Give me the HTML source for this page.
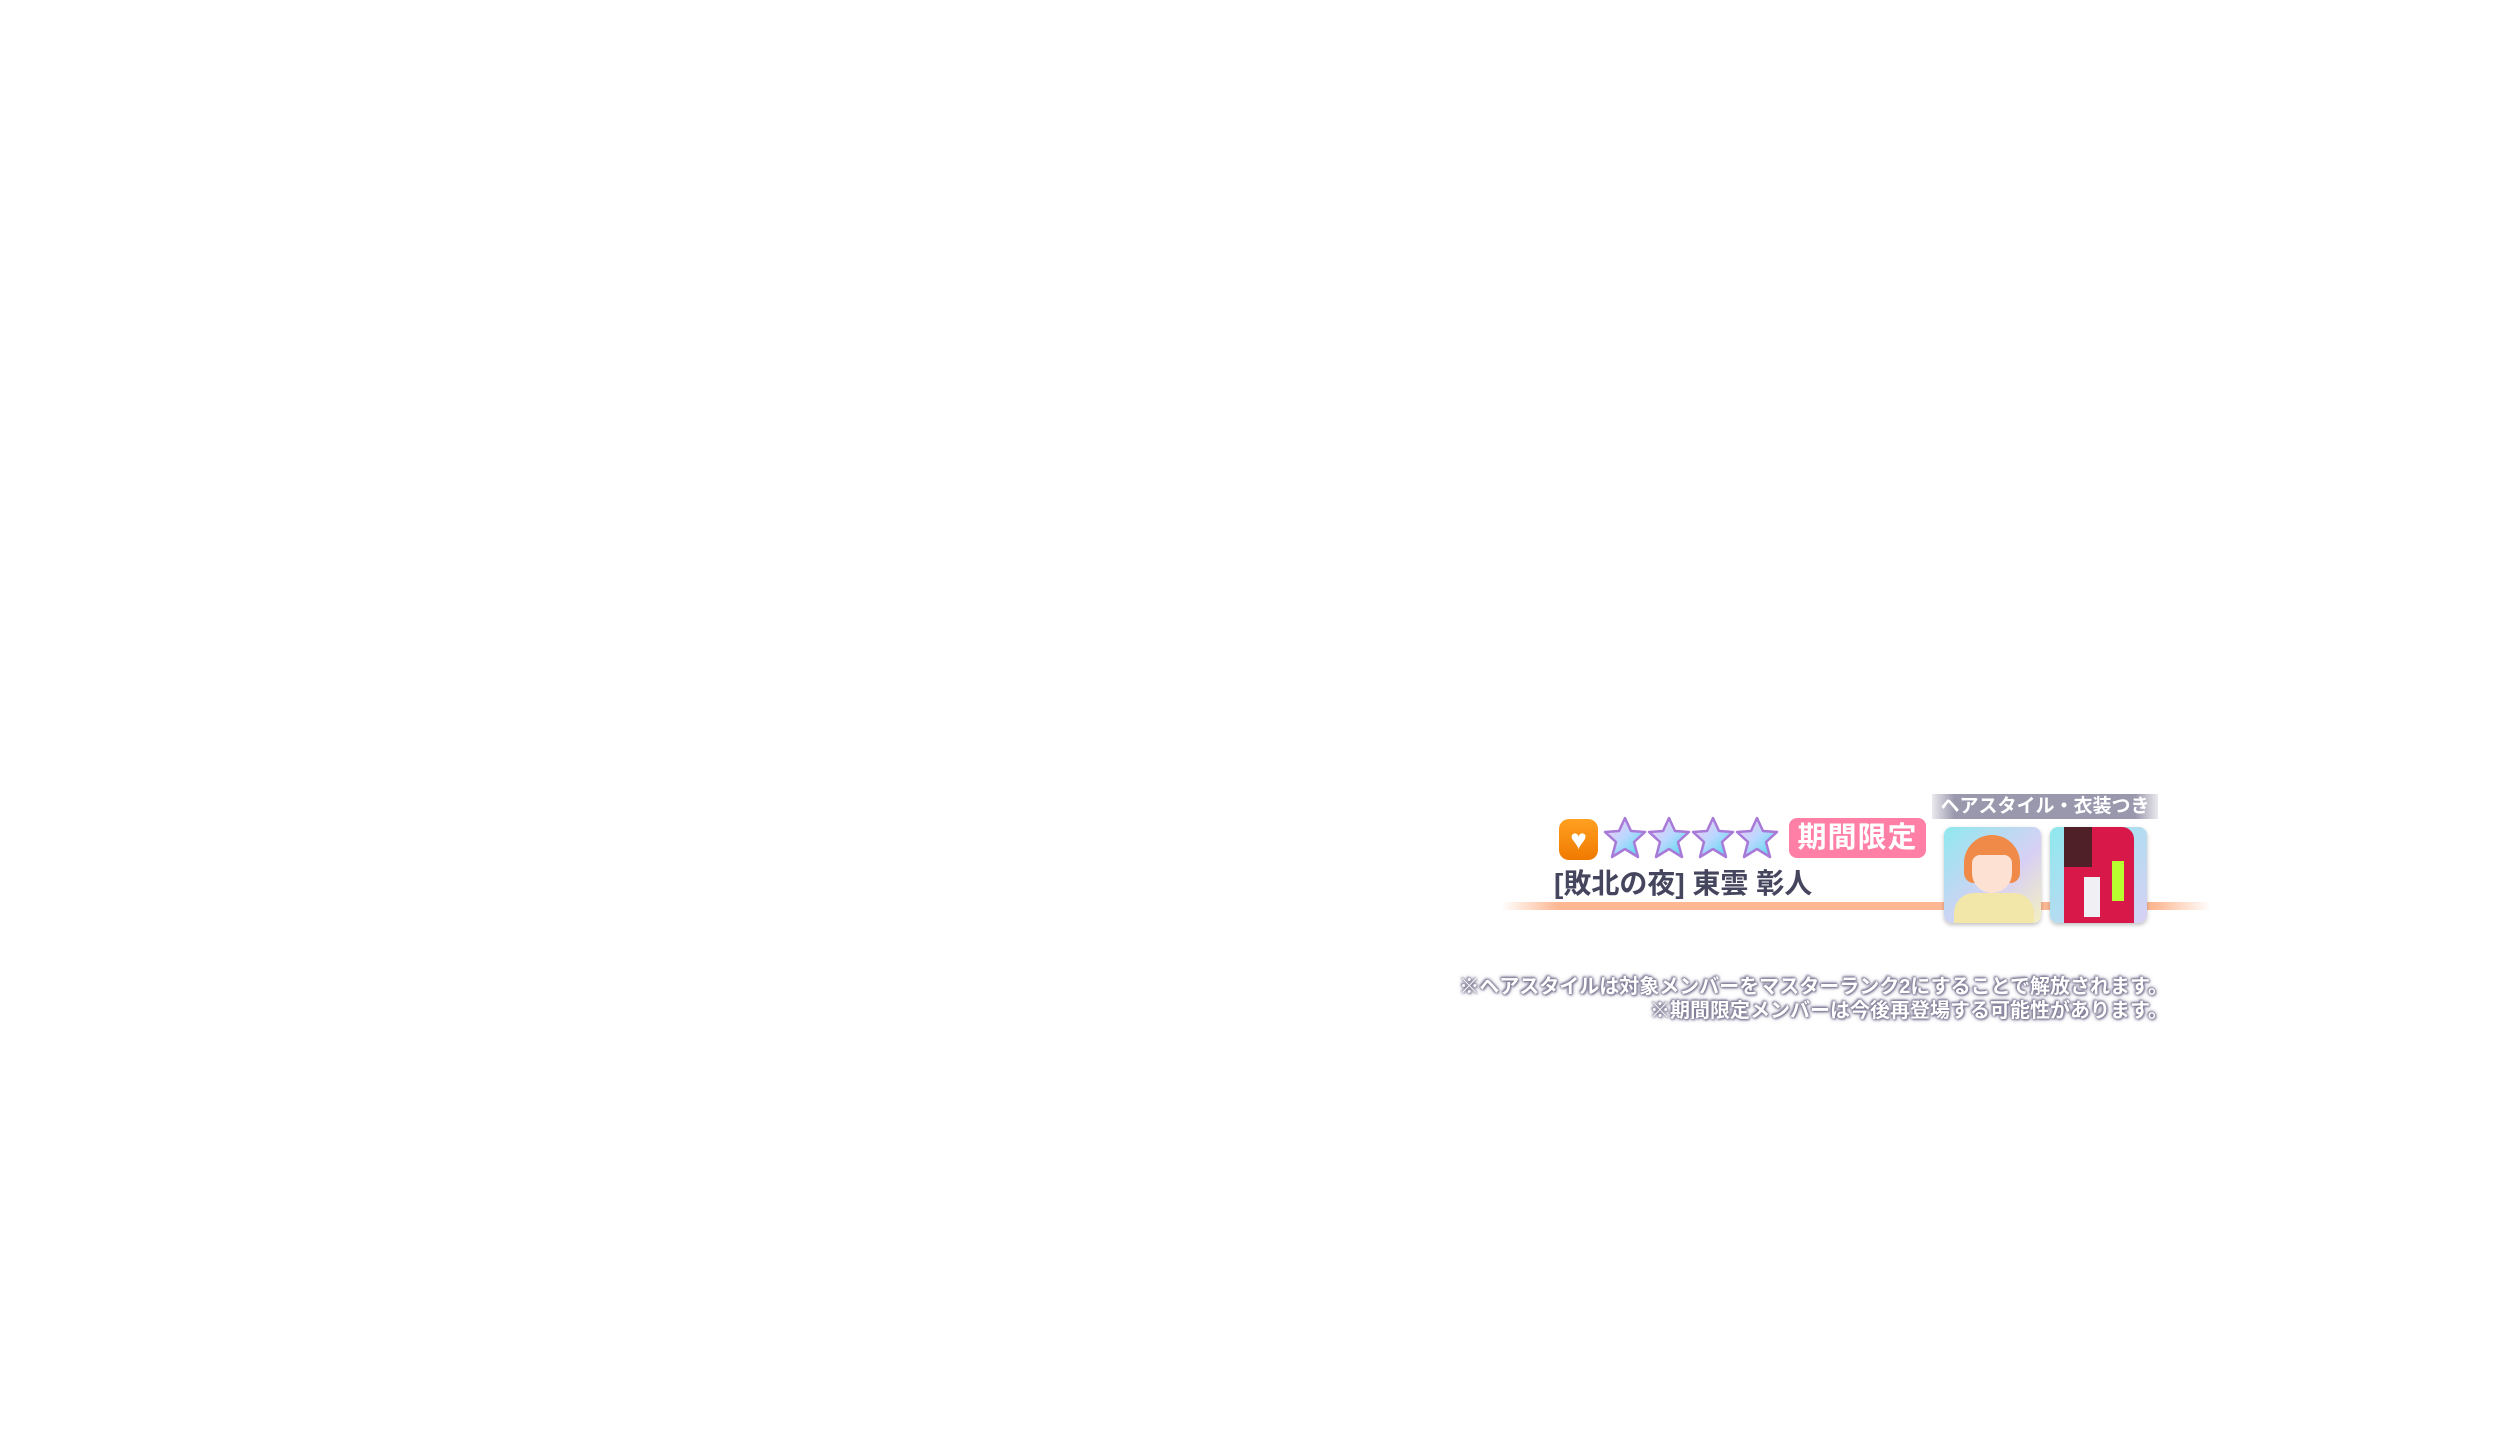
<!DOCTYPE html>
<html><head><meta charset="utf-8"><style>
body{margin:0;width:2520px;height:1440px;background:#fff;position:relative;overflow:hidden;font-family:"Liberation Sans","Noto Sans CJK JP",sans-serif;}
.a{position:absolute;}
.line{left:1501px;top:902px;width:710px;height:8px;background:linear-gradient(90deg,rgba(255,180,140,0),#fdb893 8%,#fdb893 92%,rgba(255,180,140,0));}
.heart{left:1559px;top:819px;width:39px;height:41px;border-radius:10px;background:linear-gradient(#ffa020,#f07a00);color:#fff;font-size:28px;line-height:41px;text-align:center;}
.star{top:816px;width:44px;height:44px;}
.badge{left:1789px;top:818px;width:137px;height:40px;border-radius:8px;background:#ff7fa6;color:#fff;font-weight:bold;font-size:29px;line-height:40px;text-align:center;letter-spacing:1px;}
.name{left:1554px;top:862px;font-size:28px;font-weight:bold;color:#45455e;white-space:nowrap;}
.hdr{left:1932px;top:794px;width:226px;height:25px;background:linear-gradient(90deg,rgba(150,148,170,0.2),#9a98ad 10%,#9a98ad 90%,rgba(150,148,170,0.2));color:#fff;font-size:19px;font-weight:bold;line-height:25px;text-align:center;}
.th{top:827px;width:97px;height:96px;border-radius:8px;box-shadow:0 2px 4px rgba(0,0,0,.25);overflow:hidden;}
.note{right:352px;font-size:20px;font-weight:bold;color:#fff;white-space:nowrap;text-shadow:0 0 2px #7d7a94,0 0 3px #7d7a94,1px 1px 2px #7d7a94,-1px -1px 2px #7d7a94,0 0 6px #a9a7bb;}
</style></head><body>
<div class="a line"></div>
<div class="a heart">♥</div>
<svg class="a star" style="left:1603px" viewBox="0 0 44 44"><defs><linearGradient id="g" x1="0" y1="0" x2="1" y2="1"><stop offset="0" stop-color="#ffc4f0"/><stop offset=".5" stop-color="#b8d8ff"/><stop offset="1" stop-color="#40d8e8"/></linearGradient></defs><polygon points="22,2 28,15 42,16 31,26 35,41 22,33 9,41 13,26 2,16 16,15" fill="url(#g)" stroke="#a87ad8" stroke-width="2.5" stroke-linejoin="round"/></svg>
<svg class="a star" style="left:1647px" viewBox="0 0 44 44"><polygon points="22,2 28,15 42,16 31,26 35,41 22,33 9,41 13,26 2,16 16,15" fill="url(#g)" stroke="#a87ad8" stroke-width="2.5" stroke-linejoin="round"/></svg>
<svg class="a star" style="left:1691px" viewBox="0 0 44 44"><polygon points="22,2 28,15 42,16 31,26 35,41 22,33 9,41 13,26 2,16 16,15" fill="url(#g)" stroke="#a87ad8" stroke-width="2.5" stroke-linejoin="round"/></svg>
<svg class="a star" style="left:1735px" viewBox="0 0 44 44"><polygon points="22,2 28,15 42,16 31,26 35,41 22,33 9,41 13,26 2,16 16,15" fill="url(#g)" stroke="#a87ad8" stroke-width="2.5" stroke-linejoin="round"/></svg>
<div class="a badge">期間限定</div>
<div class="a name">[敗北の夜] 東雲 彰人</div>
<div class="a hdr">ヘアスタイル・衣装つき</div>
<div class="a th" style="left:1944px;background:linear-gradient(135deg,#8fe8ee,#d8d0f4 60%,#f4f0c0);">
<div class="a" style="left:20px;top:8px;width:56px;height:48px;border-radius:28px 28px 10px 10px;background:#f08a48;"></div>
<div class="a" style="left:28px;top:28px;width:40px;height:38px;border-radius:8px 8px 20px 20px;background:#fde2d4;"></div>
<div class="a" style="left:10px;top:66px;width:80px;height:36px;border-radius:20px 20px 0 0;background:#f2e6a8;"></div>
</div>
<div class="a th" style="left:2050px;background:linear-gradient(135deg,#8fe8ee,#d8d0f4);">
<div class="a" style="left:14px;top:0;width:70px;height:96px;border-radius:12px 12px 0 0;background:#d81848;"></div>
<div class="a" style="left:14px;top:0;width:28px;height:40px;background:#502028;"></div>
<div class="a" style="left:62px;top:34px;width:12px;height:40px;background:#b8ff30;"></div>
<div class="a" style="left:34px;top:50px;width:16px;height:40px;background:#f0f0f4;"></div>
</div>
<div class="a note" style="top:970px;">※ヘアスタイルは対象メンバーをマスターランク2にすることで解放されます。</div>
<div class="a note" style="top:994px;">※期間限定メンバーは今後再登場する可能性があります。</div>
</body></html>
